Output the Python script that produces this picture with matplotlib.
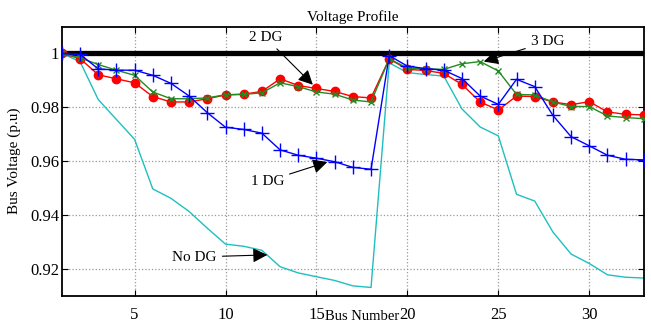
import numpy as np
import matplotlib
matplotlib.use('Agg')
import matplotlib.pyplot as plt

plt.rcParams['font.family'] = ['Liberation Serif', 'DejaVu Serif']
plt.rcParams['mathtext.fontset'] = 'stix'

bus = np.arange(1, 34)

# tensoes sem GD (caso base 33 barras)
v_sem_gd = [1.0, 0.9970, 0.9829, 0.9755, 0.9681, 0.9497, 0.9462, 0.9413, 0.9351,
            0.9292, 0.9284, 0.9269, 0.9208, 0.9185, 0.9171, 0.9157, 0.9137, 0.9131,
            0.9965, 0.9929, 0.9922, 0.9916, 0.9794, 0.9727, 0.9694, 0.9477, 0.9452,
            0.9337, 0.9255, 0.9220, 0.9178, 0.9169, 0.9166]

v_1gd = [1.0, 0.9997, 0.9943, 0.9938, 0.9938, 0.9919, 0.9889, 0.9842, 0.9780,
         0.9726, 0.9718, 0.9704, 0.9642, 0.9622, 0.9611, 0.9598, 0.9577, 0.9570,
         0.9992, 0.9953, 0.9944, 0.9938, 0.9907, 0.9842, 0.9811, 0.9904, 0.9877,
         0.9770, 0.9691, 0.9657, 0.9622, 0.9607, 0.9605]

v_2gd = [1.0, 0.9981, 0.9921, 0.9906, 0.9891, 0.9840, 0.9820, 0.9820, 0.9832,
         0.9846, 0.9849, 0.9859, 0.9906, 0.9881, 0.9870, 0.9859, 0.9840, 0.9835,
         0.9980, 0.9941, 0.9937, 0.9926, 0.9885, 0.9820, 0.9790, 0.9842, 0.9840,
         0.9820, 0.9810, 0.9821, 0.9783, 0.9774, 0.9772]

v_3gd = [1.0, 0.9984, 0.9959, 0.9938, 0.9919, 0.9857, 0.9832, 0.9832, 0.9835,
         0.9847, 0.9848, 0.9854, 0.9891, 0.9877, 0.9857, 0.9849, 0.9827, 0.9820,
         0.9980, 0.9946, 0.9943, 0.9941, 0.9962, 0.9970, 0.9935, 0.9848, 0.9846,
         0.9820, 0.9803, 0.9803, 0.9768, 0.9762, 0.9758]

fig = plt.figure(figsize=(6.51, 3.24), dpi=100)
ax = fig.add_axes([0.095, 0.087, 0.894, 0.831])
ax.set_axisbelow(True)

ax.axhline(1.0, color='black', lw=3.8, zorder=2)
ax.plot(bus, v_sem_gd, color='#1fbfbf', lw=1.0, zorder=2)
ax.plot(bus, v_2gd, color='#ff0000', lw=1.0, marker='o', ms=6, zorder=3)
ax.plot(bus, v_3gd, color='#228b22', lw=1.0, marker='x', ms=5, mew=1.0, zorder=4)
ax.plot(bus, v_1gd, color='#0000ff', lw=1.0, marker='+', ms=10, mew=1.0, zorder=5)

ax.set_xlim(1, 33)
ax.set_ylim(0.91, 1.01)
ax.set_xticks([5, 10, 15, 20, 25, 30])
ax.set_yticks([0.92, 0.94, 0.96, 0.98, 1.0])
ax.set_yticklabels(['0.92', '0.94', '0.96', '0.98', '1'])
ax.tick_params(direction='in', length=4, labelsize=12, top=True, right=True)
ax.tick_params(axis='x', pad=8)
ax.tick_params(axis='y', pad=2)
ax.grid(True, color='#999999', linestyle=':', lw=0.9)
for s in ax.spines.values():
    s.set_linewidth(1.3)

ax.set_title('Voltage Profile', fontsize=11, pad=4)
ax.set_xlabel('Bus Number', fontsize=10.5)
ax.xaxis.set_label_coords(0.516, -0.053)
ax.set_ylabel('Bus Voltage (p.u)', fontsize=11)
ax.yaxis.set_label_coords(-0.070, 0.5)

seta = dict(arrowstyle='-|>', color='black', lw=0.8, mutation_scale=22, shrinkA=2, shrinkB=0)
ax.annotate('2 DG', xy=(14.8, 0.9884), xytext=(12.2, 1.0059), fontsize=11,
            ha='center', va='center', arrowprops=seta, zorder=6)
ax.annotate('3 DG', xy=(24.2, 0.9970), xytext=(27.7, 1.0044), fontsize=11,
            ha='center', va='center', arrowprops=seta, zorder=6)
ax.annotate('1 DG', xy=(15.6, 0.9597), xytext=(12.3, 0.9526), fontsize=11,
            ha='center', va='center', arrowprops=seta, zorder=6)
ax.annotate('No DG', xy=(12.3, 0.9252), xytext=(8.3, 0.9244), fontsize=11,
            ha='center', va='center', arrowprops=seta, zorder=6)

plt.savefig('out.png', dpi=100)
